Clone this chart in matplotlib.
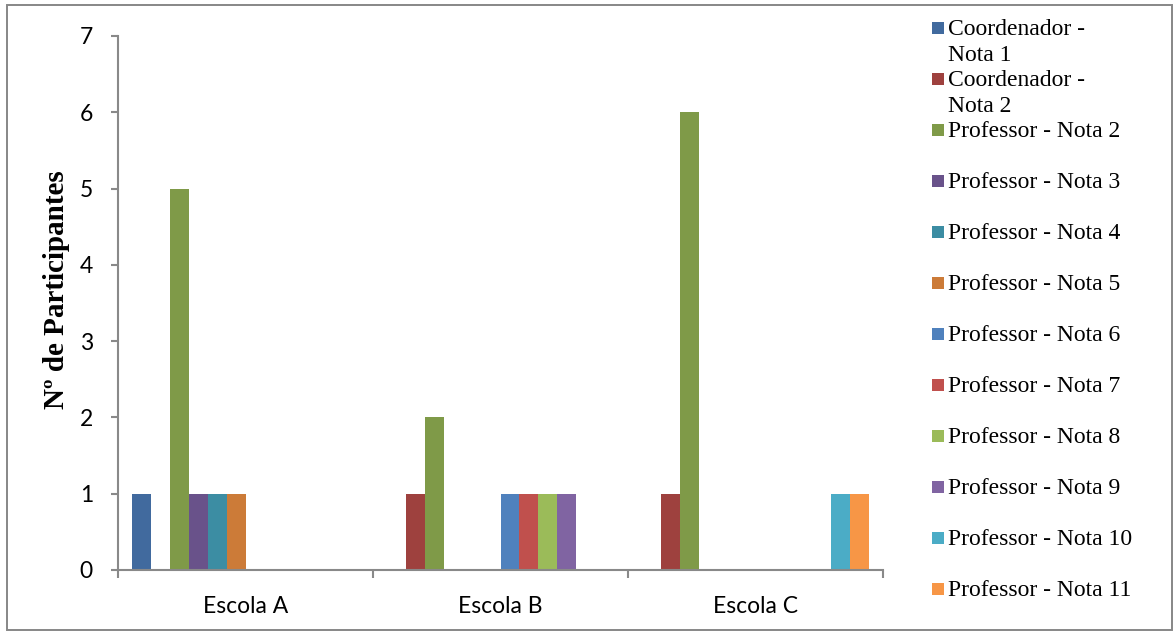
import matplotlib
matplotlib.use("Agg")
import matplotlib.pyplot as plt
from matplotlib.patches import Rectangle
import numpy as np

# Schools on the category axis
categories = ["Escola A", "Escola B", "Escola C"]

# Series (participant role and grade)
series_names = [
    "Coordenador -\nNota 1",
    "Coordenador -\nNota 2",
    "Professor - Nota 2",
    "Professor - Nota 3",
    "Professor - Nota 4",
    "Professor - Nota 5",
    "Professor - Nota 6",
    "Professor - Nota 7",
    "Professor - Nota 8",
    "Professor - Nota 9",
    "Professor - Nota 10",
    "Professor - Nota 11",
]

# Number of participants per school, one list per series
coord_nota1 = [1, 0, 0]
coord_nota2 = [0, 1, 1]
prof_nota2 = [5, 2, 6]
prof_nota3 = [1, 0, 0]
prof_nota4 = [1, 0, 0]
prof_nota5 = [1, 0, 0]
prof_nota6 = [0, 1, 0]
prof_nota7 = [0, 1, 0]
prof_nota8 = [0, 1, 0]
prof_nota9 = [0, 1, 0]
prof_nota10 = [0, 0, 1]
prof_nota11 = [0, 0, 1]

series_values = [
    coord_nota1, coord_nota2, prof_nota2, prof_nota3, prof_nota4, prof_nota5,
    prof_nota6, prof_nota7, prof_nota8, prof_nota9, prof_nota10, prof_nota11,
]

colors = [
    "#416A9E", "#9E413E", "#7F9A48", "#69528A", "#3C8DA3", "#CC7B38",
    "#4F81BD", "#C0504D", "#9BBB59", "#8064A2", "#4BACC6", "#F79646",
]

y_ticks = [0, 1, 2, 3, 4, 5, 6, 7]

W, H = 1175, 633
fig = plt.figure(figsize=(W / 100, H / 100), dpi=100)

# Outer chart border
fig.patches.append(Rectangle((7 / W, 1 - 630 / H), (1172 - 7) / W, (630 - 5) / H,
                             transform=fig.transFigure, fill=False,
                             edgecolor="#878787", linewidth=1.4))

ax = fig.add_axes([118 / W, 1 - 570 / H, (883 - 118) / W, (570 - 36) / H])

n = len(series_values)
bar_w = 1.0 / (n + 1.5)
x = np.arange(len(categories)) + 0.5
for i, (vals, col) in enumerate(zip(series_values, colors)):
    ax.bar(x + (i - (n - 1) / 2) * bar_w, vals, width=bar_w, color=col,
           linewidth=0)

ax.set_xlim(0, len(categories))
ax.set_ylim(0, 7)

spine_col = "#898989"
for s in ["top", "right"]:
    ax.spines[s].set_visible(False)
for s in ["left", "bottom"]:
    ax.spines[s].set_color(spine_col)
    ax.spines[s].set_linewidth(1.5)

tick_font = dict(family="Lato", size=16.5)
ax.set_yticks(y_ticks)
ax.set_yticklabels([str(t) for t in y_ticks], fontdict=tick_font)
ax.tick_params(axis="y", direction="out", length=5, width=1.5, color=spine_col,
               pad=13, labelcolor="black")

# Category labels at centres, tick marks at category boundaries
ax.set_xticks(x)
ax.set_xticklabels(categories, fontdict=tick_font)
ax.tick_params(axis="x", which="major", length=0, pad=19, labelcolor="black")
ax.set_xticks(np.arange(len(categories) + 1), minor=True)
ax.tick_params(axis="x", which="minor", direction="out", length=6, width=1.5,
               color=spine_col)

fig.text(57 / W, 1 - 290 / H, "Nº de Participantes", rotation=90,
         ha="center", va="center", family="Liberation Serif",
         fontweight="bold", fontsize=21)

# Legend drawn as a column on the right, one slot per series
slot_h = 51
line_h = 26
leg_font = dict(family="Liberation Serif", size=17)
for i, (name, col) in enumerate(zip(series_names, colors)):
    base = 35 + slot_h * i
    fig.patches.append(Rectangle((932 / W, 1 - (base - 1) / H), 12 / W, 12 / H,
                                 transform=fig.transFigure, facecolor=col,
                                 edgecolor="none"))
    for j, line in enumerate(name.split("\n")):
        fig.text(948 / W, 1 - (base + j * line_h) / H, line, ha="left",
                 va="baseline", color="black", **leg_font)

fig.savefig("out.png", dpi=100)
